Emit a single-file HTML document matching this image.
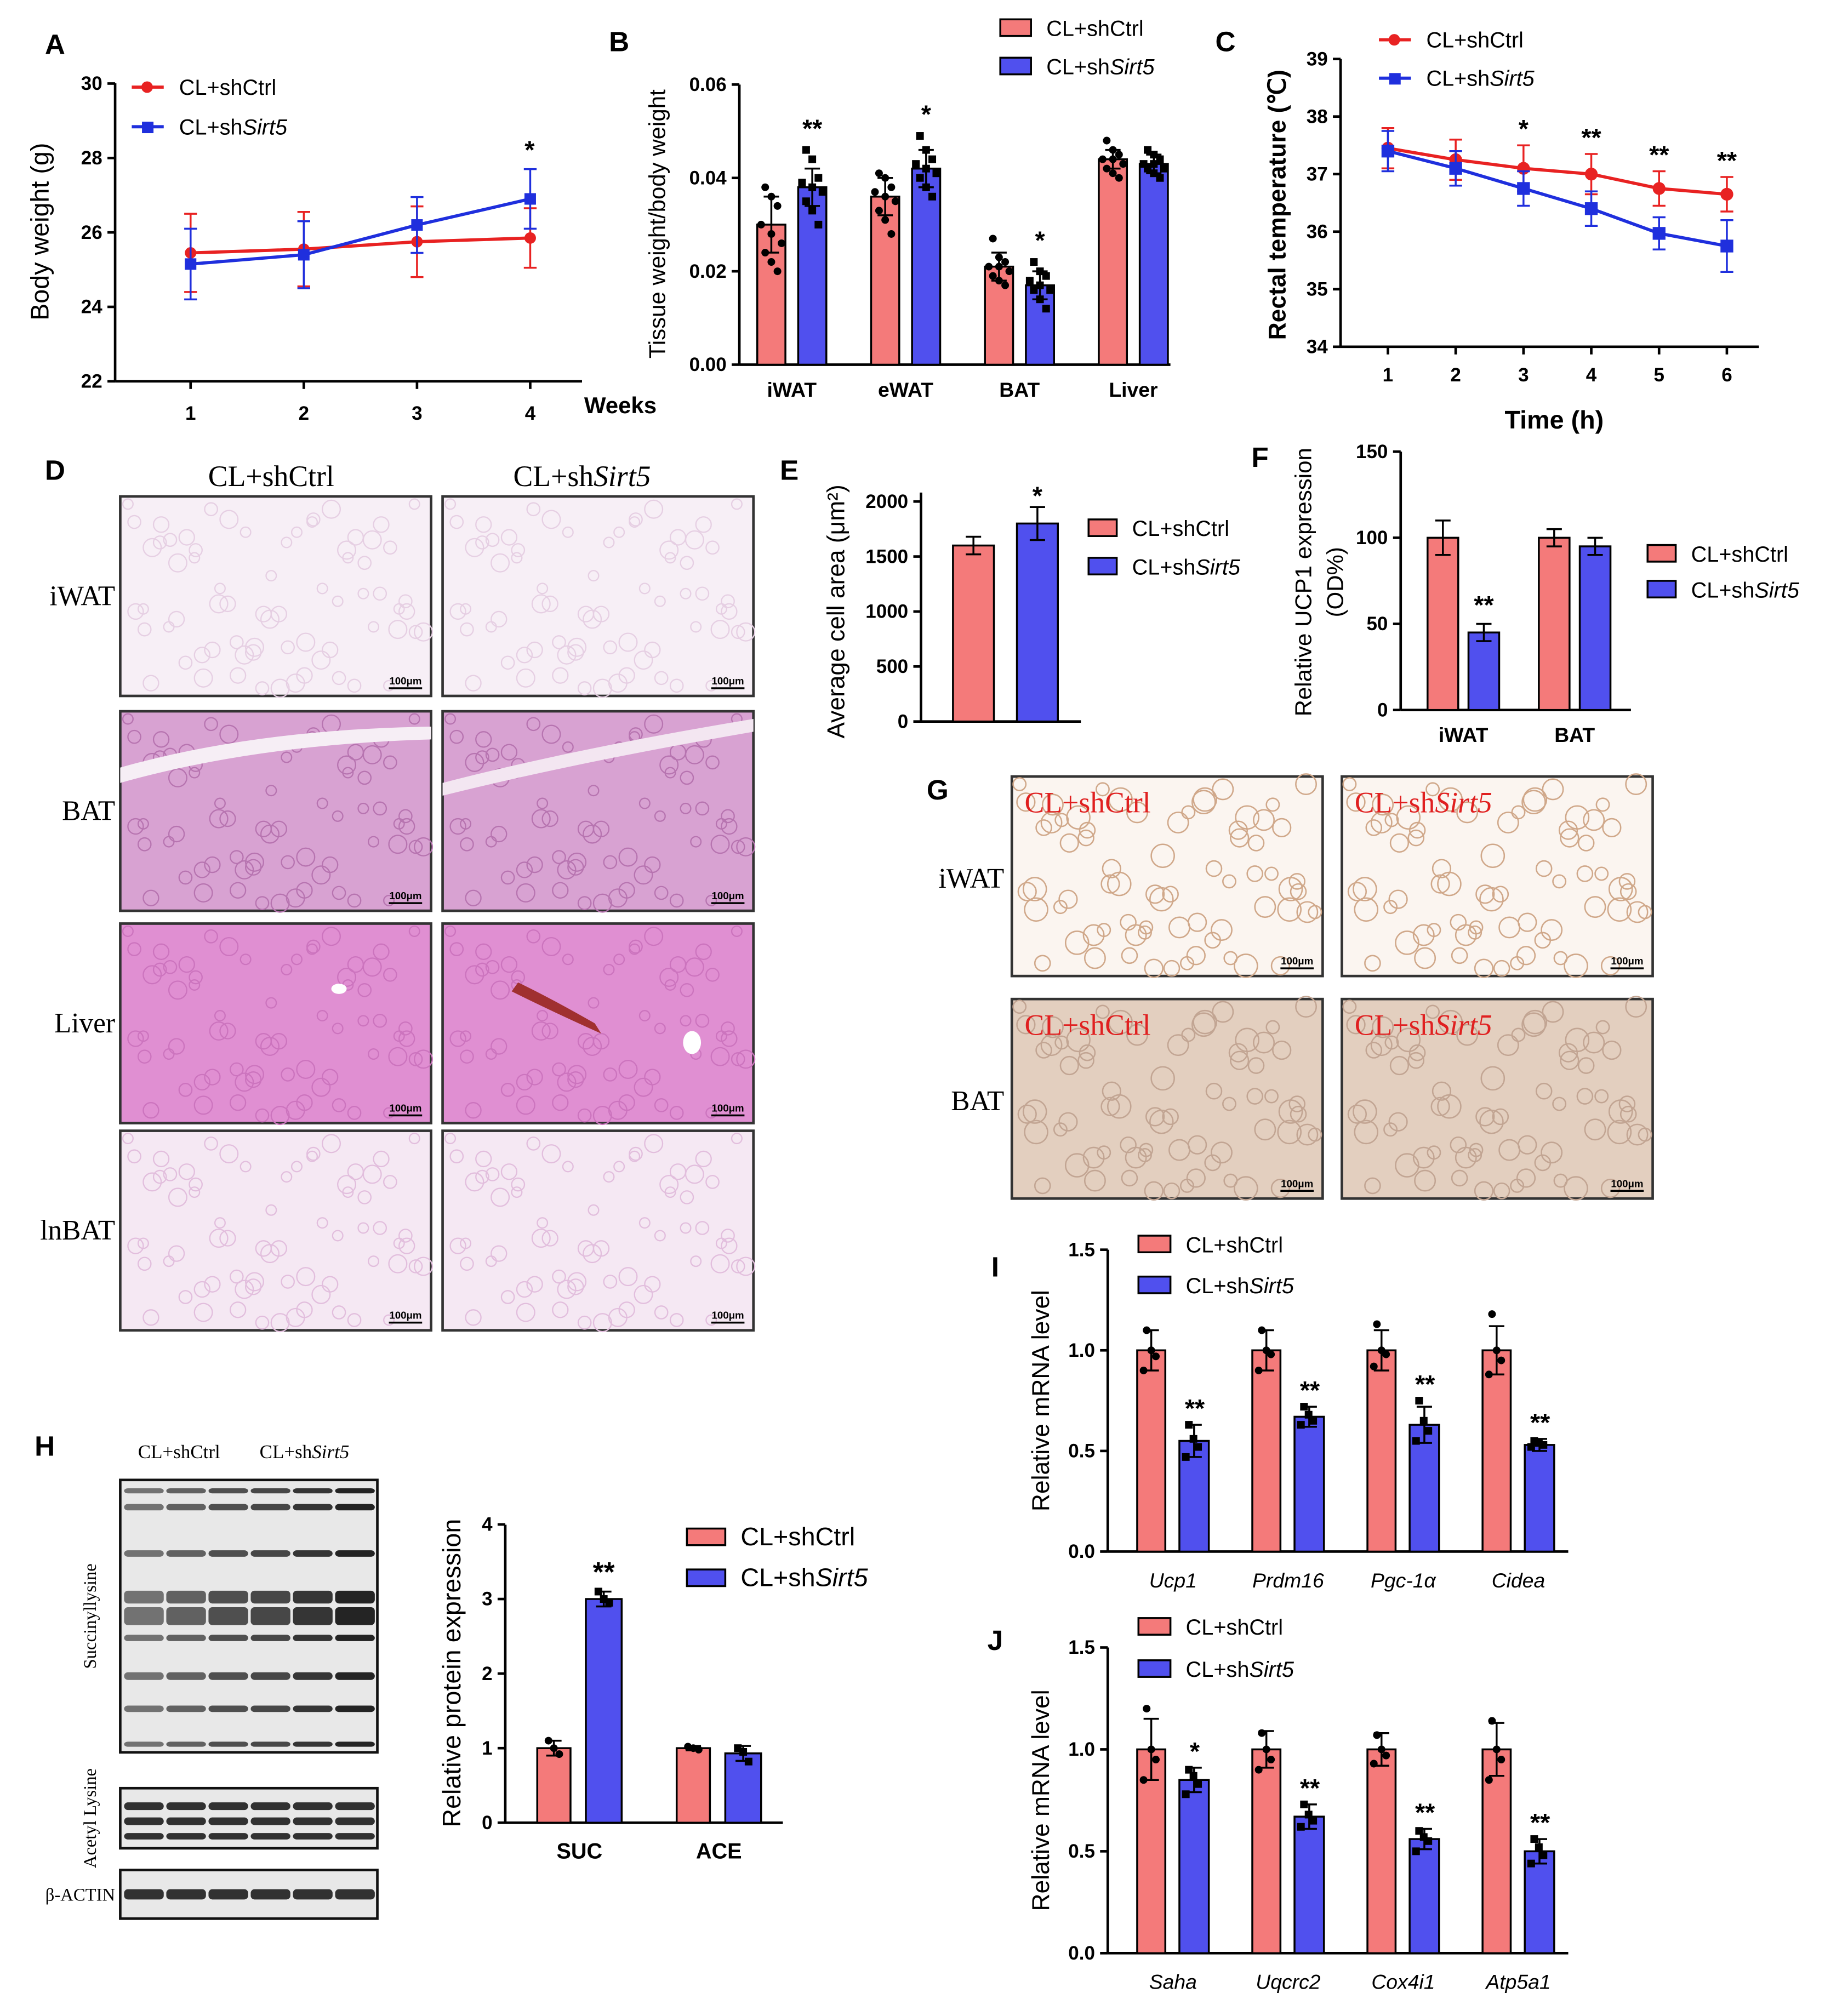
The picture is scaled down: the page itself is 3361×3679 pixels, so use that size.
<!DOCTYPE html>
<html><head><meta charset="utf-8">
<style>
html,body{margin:0;padding:0;background:#fff;}
svg{display:block;font-family:"Liberation Sans",Arial,sans-serif;}
.serif{font-family:"Liberation Serif","Times New Roman",serif;}
</style></head>
<body>
<svg id="fig" width="3361" height="3679" viewBox="0 0 1440 1576" xmlns="http://www.w3.org/2000/svg">
<rect width="1440" height="1576" fill="#fff"/>
<g id="root"></g>
</svg>
<script>
// ---- Panel A data ----
const weeks=[1,2,3,4];
const aTicks=[22,24,26,28,30];
const aCtrl=[25.45,25.55,25.75,25.85];
const aCtrlErr=[1.05,1.0,0.95,0.8];
const aSirt=[25.15,25.4,26.2,26.9];
const aSirtErr=[0.95,0.9,0.75,0.8];
// ---- Panel B data ----
const bCats=["iWAT","eWAT","BAT","Liver"];
const bTicks=[0,0.02,0.04,0.06];
const bCtrl=[0.030,0.036,0.021,0.044];
const bCtrlErr=[0.006,0.004,0.003,0.002];
const bSirt=[0.038,0.042,0.017,0.043];
const bSirtErr=[0.004,0.004,0.003,0.002];
const bStars=["**","*","*",""];
const bCtrlPts=[[0.038,0.036,0.034,0.030,0.028,0.026,0.024,0.022,0.020],[0.041,0.040,0.038,0.037,0.036,0.035,0.033,0.031,0.028],[0.027,0.023,0.022,0.021,0.021,0.020,0.019,0.018,0.017],[0.048,0.046,0.045,0.044,0.044,0.043,0.042,0.041,0.040]];
const bSirtPts=[[0.046,0.044,0.040,0.039,0.038,0.037,0.035,0.033,0.030],[0.049,0.046,0.044,0.043,0.042,0.041,0.040,0.038,0.036],[0.022,0.020,0.019,0.018,0.017,0.016,0.016,0.014,0.012],[0.046,0.045,0.044,0.043,0.043,0.042,0.042,0.041,0.040]];
// ---- Panel C data ----
const hours=[1,2,3,4,5,6];
const cTicks=[34,35,36,37,38,39];
const cCtrl=[37.45,37.25,37.1,37.0,36.75,36.65];
const cCtrlErr=[0.35,0.35,0.4,0.35,0.3,0.3];
const cSirt=[37.4,37.1,36.75,36.4,35.97,35.75];
const cSirtErr=[0.35,0.3,0.3,0.3,0.28,0.45];
const cStars=["","","*","**","**","**"];
// ---- Panel E data ----
const eTicks=[0,500,1000,1500,2000];
const eCtrl=1600, eCtrlErr=80, eSirt=1800, eSirtErr=150;
// ---- Panel F data ----
const fCats=["iWAT","BAT"];
const fTicks=[0,50,100,150];
const fCtrl=[100,100];
const fCtrlErr=[10,5];
const fSirt=[45,95];
const fSirtErr=[5,5];
const fStars=["**",""];
// ---- Panel H data ----
const hCats=["SUC","ACE"];
const hTicks=[0,1,2,3,4];
const hCtrl=[1.0,1.0];
const hCtrlErr=[0.1,0.03];
const hSirt=[3.0,0.93];
const hSirtErr=[0.1,0.1];
const hStars=["**",""];
const hCtrlPts=[[1.1,1.0,0.92],[1.02,1.0,0.98]];
const hSirtPts=[[3.1,3.0,2.95],[1.0,0.95,0.82]];
// ---- Panel I data ----
const iCats=["Ucp1","Prdm16","Pgc-1α","Cidea"];
const iTicks=[0,0.5,1.0,1.5];
const iCtrl=[1.0,1.0,1.0,1.0];
const iCtrlErr=[0.1,0.1,0.1,0.12];
const iSirt=[0.55,0.67,0.63,0.53];
const iSirtErr=[0.08,0.05,0.09,0.03];
const iStars=["**","**","**","**"];
const iCtrlPts=[[1.1,1.0,0.97,0.9],[1.1,1.0,0.98,0.9],[1.13,1.0,0.98,0.92],[1.18,1.0,0.95,0.88]];
const iSirtPts=[[0.63,0.56,0.52,0.47],[0.72,0.68,0.65,0.63],[0.75,0.65,0.6,0.55],[0.55,0.54,0.53,0.52]];
// ---- Panel J data ----
const jCats=["Saha","Uqcrc2","Cox4i1","Atp5a1"];
const jTicks=[0,0.5,1.0,1.5];
const jCtrl=[1.0,1.0,1.0,1.0];
const jCtrlErr=[0.15,0.09,0.08,0.13];
const jSirt=[0.85,0.67,0.56,0.50];
const jSirtErr=[0.06,0.06,0.05,0.06];
const jStars=["*","**","**","**"];
const jCtrlPts=[[1.2,1.0,0.95,0.85],[1.08,1.0,0.95,0.9],[1.07,1.0,0.97,0.93],[1.14,1.0,0.95,0.85]];
const jSirtPts=[[0.9,0.87,0.83,0.78],[0.73,0.68,0.65,0.62],[0.6,0.57,0.55,0.5],[0.56,0.52,0.48,0.44]];

const NS="http://www.w3.org/2000/svg";
const root=document.getElementById('root');
const RED="#f47a7a", BLUE="#5050ee", LRED="#e82222", LBLUE="#1f2fdd";
function mk(tag,attrs,parent){const e=document.createElementNS(NS,tag);for(const k in attrs)e.setAttribute(k,attrs[k]);(parent||root).appendChild(e);return e;}
function txt(x,y,s,size,opts,parent){opts=opts||{};const t=mk('text',{x:x,y:y,'font-size':size,'text-anchor':opts.anchor||'middle',fill:opts.fill||'#000','font-weight':opts.bold?'bold':'normal','font-style':opts.italic?'italic':'normal'},parent);
 if(opts.rot)t.setAttribute('transform','rotate(-90 '+x+' '+y+')');if(opts.cls)t.setAttribute('class',opts.cls);t.textContent=s;
 
 return t;}
function line(x1,y1,x2,y2,w,c,parent){const l=mk('line',{x1:x1,y1:y1,x2:x2,y2:y2,stroke:c||'#000','stroke-width':w||2},parent);return l;}
function yAxis(x,y0,y1,ticks,scale,fmt,size,name){const g=mk('g',{});
 
 
 line(x,y0,x,y1,2,'#000',g);
 ticks.forEach(t=>{const y=scale(t);line(x-6,y,x,y,2,'#000',g);txt(x-10,y+5,fmt(t),size||14,{anchor:'end',bold:true,name:'y-tick-label'},g);});}
function legend(x,y1,y2,size,italicSirt,fs){const g=mk('g',{});
 
 
 [[y1,RED,'CL+shCtrl'],[y2,BLUE,'CL+sh']].forEach((r,i)=>{
  const s=mk('rect',{x:x,y:r[0]-7,width:size,height:13,fill:r[1],stroke:'#000','stroke-width':1.5},g);
  
  
  const t=txt(x+size+12,r[0]+6,r[2],fs||17,{anchor:'start',name:'legend-entry'},g);
  if(i==1){const ts=document.createElementNS(NS,'tspan');ts.setAttribute('font-style','italic');ts.textContent='Sirt5';t.appendChild(ts);}
 });}
function bar(x,w,v,err,scale,color,name){
 const y=scale(v),y0=scale(0);
 const r=mk('rect',{x:x,y:y,width:w,height:y0-y,fill:color,stroke:'#000','stroke-width':1.5});
 
 
 const cx=x+w/2;line(cx,y,cx,scale(v+err),1.5);line(cx-6,scale(v+err),cx+6,scale(v+err),1.5);
 line(cx,y,cx,scale(v-err),1.5);line(cx-6,scale(v-err),cx+6,scale(v-err),1.5);}
function dots(cx,pts,scale,shape,spread){
 pts.forEach((v,k)=>{const off=((k%3)-1)*spread*(k%2?1:0.6);
  const y=scale(v);
  const m=shape=='circle'?mk('circle',{cx:cx+off,cy:y,r:3,fill:'#000'}):mk('rect',{x:cx+off-3,y:y-3,width:6,height:6,fill:'#000'});
  
  });}

// ===== Panel A =====
(function(){
 const sy=v=>298-(v-22)*29.1, sx=w=>149+(w-1)*88.5;
 yAxis(90,298,65,aTicks,sy,t=>t,15,'y-axis-a');
 line(90,298,455,298,2);
 weeks.forEach(w=>{line(sx(w),298,sx(w),304,2);txt(sx(w),328,w,15,{bold:true,name:'x-tick-label'});});
 txt(485,323,'Weeks',18,{bold:true,name:'x-axis-title'});
 txt(38,181,'Body weight (g)',20,{rot:true,name:'y-axis-title'});
 txt(43,42,'A',22,{bold:true,name:'panel-label'});
 [[aCtrl,aCtrlErr,LRED,'circle'],[aSirt,aSirtErr,LBLUE,'square']].forEach(s=>{
  const pts=s[0].map((v,i)=>sx(weeks[i])+','+sy(v)).join(' ');
  const pl=mk('polyline',{points:pts,fill:'none',stroke:s[2],'stroke-width':2.5});
  
  
  s[0].forEach((v,i)=>{const x=sx(weeks[i]);line(x,sy(v-s[1][i]),x,sy(v+s[1][i]),1.5,s[2]);line(x-5,sy(v+s[1][i]),x+5,sy(v+s[1][i]),1.5,s[2]);line(x-5,sy(v-s[1][i]),x+5,sy(v-s[1][i]),1.5,s[2]);
   const m=s[3]=='circle'?mk('circle',{cx:x,cy:sy(v),r:4.5,fill:s[2]}):mk('rect',{x:x-4.5,y:sy(v)-4.5,width:9,height:9,fill:s[2]});
   
   });
 });
 txt(414,124,'*',20,{bold:true,name:'significance-star'});
 line(103,68,128,68,2.5,LRED);mk('circle',{cx:115,cy:68,r:4.5,fill:LRED});txt(140,74,'CL+shCtrl',17,{anchor:'start',name:'legend-entry'});
 line(103,99,128,99,2.5,LBLUE);mk('rect',{x:111,y:95,width:9,height:9,fill:LBLUE});
 const t=txt(140,105,'CL+sh',17,{anchor:'start',name:'legend-entry'});const ts=document.createElementNS(NS,'tspan');ts.setAttribute('font-style','italic');ts.textContent='Sirt5';t.appendChild(ts);
})();

// ===== Panel B =====
(function(){
 const sy=v=>285-v/0.06*219;
 yAxis(578,285,66,bTicks,sy,t=>t.toFixed(2),15,'y-axis-b');
 line(578,285,915,285,2);
 txt(520,175,'Tissue weight/body weight',18,{rot:true,name:'y-axis-title'});
 txt(484,40,'B',22,{bold:true,name:'panel-label'});
 bCats.forEach((c,i)=>{const cx=619+i*89;
  bar(cx-27,22,bCtrl[i],bCtrlErr[i],sy,RED,'bar-ctrl-'+c);
  bar(cx+5,22,bSirt[i],bSirtErr[i],sy,BLUE,'bar-sirt5-'+c);
  dots(cx-16,bCtrlPts[i],sy,'circle',8);
  dots(cx+16,bSirtPts[i],sy,'square',8);
  txt(cx,310,c,16,{bold:true,name:'x-tick-label'});
  if(bStars[i])txt(cx+16,sy(Math.max(...bSirtPts[i]))-10,bStars[i],20,{bold:true,name:'significance-star'});
 });
 legend(782,22,52,24);
})();

// ===== Panel C =====
(function(){
 const sy=v=>271-(v-34)*45, sx=h=>1085+(h-1)*53;
 yAxis(1048,271,46,cTicks,sy,t=>t,15,'y-axis-c');
 line(1048,271,1375,271,2);
 hours.forEach(h=>{line(sx(h),271,sx(h),277,2);txt(sx(h),298,h,15,{bold:true,name:'x-tick-label'});});
 txt(1215,335,'Time (h)',20,{bold:true,name:'x-axis-title'});
 txt(1005,160,'Rectal temperature (℃)',19,{rot:true,bold:true,name:'y-axis-title'});
 txt(958,40,'C',22,{bold:true,name:'panel-label'});
 [[cCtrl,cCtrlErr,LRED,'circle'],[cSirt,cSirtErr,LBLUE,'square']].forEach(s=>{
  const pts=s[0].map((v,i)=>sx(hours[i])+','+sy(v)).join(' ');
  const pl=mk('polyline',{points:pts,fill:'none',stroke:s[2],'stroke-width':2.5});
  
  
  s[0].forEach((v,i)=>{const x=sx(hours[i]);line(x,sy(v-s[1][i]),x,sy(v+s[1][i]),1.5,s[2]);line(x-5,sy(v+s[1][i]),x+5,sy(v+s[1][i]),1.5,s[2]);line(x-5,sy(v-s[1][i]),x+5,sy(v-s[1][i]),1.5,s[2]);
   const m=s[3]=='circle'?mk('circle',{cx:x,cy:sy(v),r:5,fill:s[2]}):mk('rect',{x:x-5,y:sy(v)-5,width:10,height:10,fill:s[2]});
   
   });
 });
 hours.forEach((h,i)=>{if(cStars[i])txt(sx(h),sy(cCtrl[i]+cCtrlErr[i])-6,cStars[i],20,{bold:true,name:'significance-star'});});
 line(1078,31,1103,31,2.5,LRED);mk('circle',{cx:1090,cy:31,r:4.5,fill:LRED});txt(1115,37,'CL+shCtrl',17,{anchor:'start',name:'legend-entry'});
 line(1078,61,1103,61,2.5,LBLUE);mk('rect',{x:1086,y:57,width:9,height:9,fill:LBLUE});
 const t=txt(1115,67,'CL+sh',17,{anchor:'start',name:'legend-entry'});const ts=document.createElementNS(NS,'tspan');ts.setAttribute('font-style','italic');ts.textContent='Sirt5';t.appendChild(ts);
})();

// ===== Panel D histology =====
(function(){
 txt(43,375,'D',22,{bold:true,name:'panel-label'});
 txt(212,380,'CL+shCtrl',23,{cls:'serif',name:'column-header'});
 const h=txt(455,380,'CL+sh',23,{cls:'serif',name:'column-header'});const ts=document.createElementNS(NS,'tspan');ts.setAttribute('font-style','italic');ts.textContent='Sirt5';h.appendChild(ts);
 const rows=[['iWAT',388,'#f7eff6','#e6cfe3'],['BAT',556,'#d8a2d2','#b774b0'],['Liver',722,'#e08fd2','#cc74be'],['lnBAT',884,'#f5e8f3','#e2bedd']];
 rows.forEach(r=>{
  txt(90,r[1]+85,r[0],22,{anchor:'end',cls:'serif',name:'row-label'});
  [94,346].forEach(x=>{const g=mk('g',{});
   
   
   mk('rect',{x:x,y:r[1],width:243,height:156,fill:r[2],stroke:'#333','stroke-width':2},g);
   for(let k=0;k<70;k++){const px=x+6+((k*53)%232),py=r[1]+6+((k*29+k*k*7)%146);mk('circle',{cx:px,cy:py,r:4+(k%4),fill:'none',stroke:r[3],'stroke-width':1},g);}
   line(x+210,r[1]+150,x+236,r[1]+150,1.5,'#000',g);
   txt(x+223,r[1]+147,'100μm',8,{bold:true,name:'scale-bar'},g);
  });
 });
 mk('path',{d:'M94 600 Q200 570 337 568 L337 578 Q200 582 94 612Z',fill:'#f6eef5'});
 mk('path',{d:'M346 612 Q450 585 589 562 L589 572 Q450 596 346 622Z',fill:'#f3e6f1'});
 mk('path',{d:'M400 775 Q430 790 470 808 L465 800 Q430 780 405 768Z',fill:'#a03030'});
 mk('ellipse',{cx:265,cy:773,rx:6,ry:4,fill:'#fff'});
 mk('ellipse',{cx:541,cy:815,rx:7,ry:9,fill:'#fff'});
})();

// ===== Panel E =====
(function(){
 const sy=v=>564-v/2000*172;
 yAxis(720,564,385,eTicks,sy,t=>t,15,'y-axis-e');
 line(720,564,845,564,2);
 txt(660,478,'Average cell area (μm²)',19,{rot:true,name:'y-axis-title'});
 txt(617,375,'E',22,{bold:true,name:'panel-label'});
 bar(745,32,eCtrl,eCtrlErr,sy,RED,'bar-ctrl');
 bar(795,32,eSirt,eSirtErr,sy,BLUE,'bar-sirt5');
 txt(811,sy(eSirt+eSirtErr)-2,'*',20,{bold:true,name:'significance-star'});
 legend(851,413,443,22);
})();

// ===== Panel F =====
(function(){
 const sy=v=>555-v/150*202;
 yAxis(1095,555,353,fTicks,sy,t=>t,15,'y-axis-f');
 line(1095,555,1275,555,2);
 txt(1025,455,'Relative UCP1 expression',18,{rot:true,name:'y-axis-title'});
 txt(1050,455,'(OD%)',18,{rot:true,name:'y-axis-title'});
 txt(985,365,'F',22,{bold:true,name:'panel-label'});
 fCats.forEach((c,i)=>{const cx=1144+i*87;
  bar(cx-28,24,fCtrl[i],fCtrlErr[i],sy,RED,'bar-ctrl-'+c);
  bar(cx+4,24,fSirt[i],fSirtErr[i],sy,BLUE,'bar-sirt5-'+c);
  txt(cx,580,c,16,{bold:true,name:'x-tick-label'});
  if(fStars[i])txt(cx+16,sy(fSirt[i]+fSirtErr[i])-8,fStars[i],20,{bold:true,name:'significance-star'});
 });
 legend(1288,433,461,22);
})();

// ===== Panel G =====
(function(){
 txt(733,625,'G',22,{bold:true,name:'panel-label'});
 const rows=[['iWAT',607,'#fbf5f0','#d0a88a'],['BAT',781,'#e3cfbf','#c2a593']];
 rows.forEach(r=>{
  txt(785,r[1]+87,r[0],22,{anchor:'end',cls:'serif',name:'row-label'});
  [791,1049].forEach((x,j)=>{const g=mk('g',{});
   
   
   mk('rect',{x:x,y:r[1],width:243,height:156,fill:r[2],stroke:'#333','stroke-width':2},g);
   for(let k=0;k<70;k++){const px=x+6+((k*53)%232),py=r[1]+6+((k*29+k*k*7)%146);mk('circle',{cx:px,cy:py,r:5+(k%5),fill:'none',stroke:r[3],'stroke-width':1.1},g);}
   const t=txt(x+10,r[1]+28,j==0?'CL+shCtrl':'CL+sh',23,{anchor:'start',fill:'#e02020',cls:'serif',name:'image-label'},g);
   if(j==1){const ts=document.createElementNS(NS,'tspan');ts.setAttribute('font-style','italic');ts.textContent='Sirt5';t.appendChild(ts);}
   line(x+210,r[1]+150,x+236,r[1]+150,1.5,'#000',g);
   txt(x+223,r[1]+147,'100μm',8,{bold:true,name:'scale-bar'},g);
  });
 });
})();

// ===== Panel H =====
(function(){
 txt(35,1138,'H',22,{bold:true,name:'panel-label'});
 txt(140,1140,'CL+shCtrl',15,{cls:'serif',name:'lane-header'});
 const h=txt(238,1140,'CL+sh',15,{cls:'serif',name:'lane-header'});const ts=document.createElementNS(NS,'tspan');ts.setAttribute('font-style','italic');ts.textContent='Sirt5';h.appendChild(ts);
 const blots=[[1157,213,'Succinyllysine'],[1398,47,'Acetyl Lysine'],[1462,38,'β-ACTIN']];
 blots.forEach((b,bi)=>{const g=mk('g',{});
  
  
  mk('rect',{x:94,y:b[0],width:201,height:b[1],fill:'#e8e8e8',stroke:'#111','stroke-width':2},g);
  const bands=bi==0?[[0.04,4],[0.1,5],[0.27,5],[0.43,10],[0.5,14],[0.58,5],[0.72,6],[0.84,5],[0.97,4]]:bi==1?[[0.3,6],[0.55,6],[0.8,5]]:[[0.5,8]];
  bands.forEach(f=>{for(let l=0;l<6;l++){
   mk('rect',{x:97+l*33,y:b[0]+f[0]*b[1]-f[1]/2,width:31,height:f[1],fill:'#111',opacity:(bi==0?0.55+0.08*(l%3)+(l>2?0.2:0):0.85),rx:3},g);}});
  if(bi<2)txt(75,b[0]+b[1]/2,b[2],14,{rot:true,cls:'serif',name:'blot-label'});
  else txt(90,b[0]+b[1]/2+5,b[2],14,{anchor:'end',cls:'serif',name:'blot-label'});
 });
 const sy=v=>1425-v*58.3;
 yAxis(395,1425,1192,hTicks,sy,t=>t,15,'y-axis-h');
 line(395,1425,612,1425,2);
 txt(360,1308,'Relative protein expression',20,{rot:true,name:'y-axis-title'});
 hCats.forEach((c,i)=>{const cx=453+i*109;
  bar(cx-33,26,hCtrl[i],hCtrlErr[i],sy,RED,'bar-ctrl-'+c);
  bar(cx+5,28,hSirt[i],hSirtErr[i],sy,BLUE,'bar-sirt5-'+c);
  dots(cx-20,hCtrlPts[i],sy,'circle',7);
  dots(cx+19,hSirtPts[i],sy,'square',7);
  txt(cx,1453,c,17,{bold:true,name:'x-tick-label'});
  if(hStars[i])txt(cx+19,sy(hSirt[i]+hSirtErr[i])-8,hStars[i],22,{bold:true,name:'significance-star'});
 });
 legend(537,1202,1234,30,true,20);
})();

// ===== Panels I & J =====
function mrna(cats,ctrl,ctrlErr,sirt,sirtErr,stars,cPts,sPts,y0,y15,label,lx,ly,legY1,legY2,nm){
 const sy=v=>y0-v/1.5*(y0-y15);
 yAxis(866,y0,y15,[0,0.5,1.0,1.5],sy,t=>t.toFixed(1),15,'y-axis-'+nm);
 line(866,y0,1226,y0,2);
 txt(820,(y0+y15)/2,'Relative mRNA level',19,{rot:true,name:'y-axis-title'});
 txt(lx,ly,label,22,{bold:true,name:'panel-label'});
 cats.forEach((c,i)=>{const cx=917+i*90;
  bar(cx-28,22,ctrl[i],ctrlErr[i],sy,RED,'bar-ctrl-'+c);
  bar(cx+5,23,sirt[i],sirtErr[i],sy,BLUE,'bar-sirt5-'+c);
  dots(cx-17,cPts[i],sy,'circle',6);
  dots(cx+16,sPts[i],sy,'square',6);
  txt(cx,y0+28,c,16,{italic:true,name:'x-tick-label'});
  if(stars[i])txt(cx+17,sy(Math.max(sirt[i]+sirtErr[i],...sPts[i]))-6,stars[i],20,{bold:true,name:'significance-star'});
 });
 legend(890,legY1,legY2,25);
}
mrna(iCats,iCtrl,iCtrlErr,iSirt,iSirtErr,iStars,iCtrlPts,iSirtPts,1213,977,'I',778,998,973,1005,'i');
mrna(jCats,jCtrl,jCtrlErr,jSirt,jSirtErr,jStars,jCtrlPts,jSirtPts,1527,1288,'J',778,1290,1272,1305,'j');
</script>
</body></html>
